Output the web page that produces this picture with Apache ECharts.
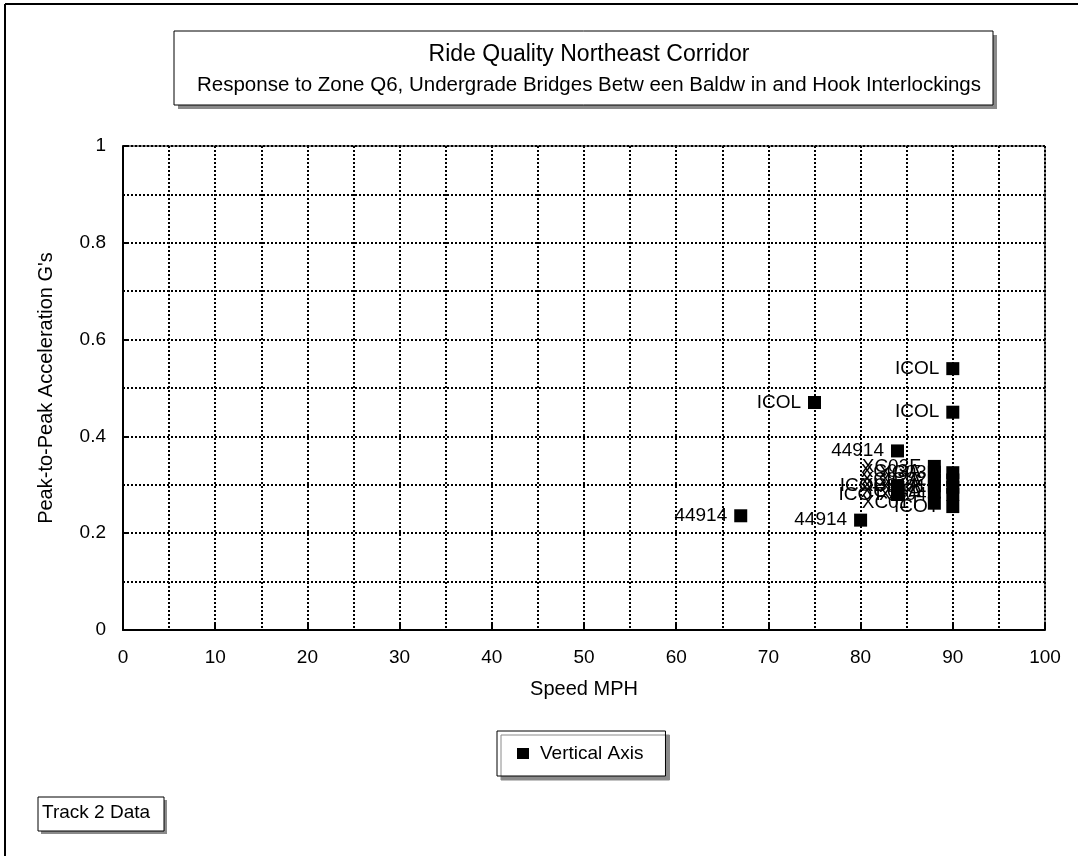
<!DOCTYPE html>
<html>
<head>
<meta charset="utf-8">
<script src="https://cdn.jsdelivr.net/npm/echarts@6/dist/echarts.min.js"></script>
<style>
  html, body { margin: 0; padding: 0; background: #fff; }
  #chart { width: 1078px; height: 856px; }
</style>
</head>
<body>
<div id="chart"></div>
<script>
// speed (MPH), peak-to-peak acceleration (G) and the tag printed next to each point
const speeds = [90, 75, 90, 84, 67, 80, 88, 88, 88, 88, 88, 84, 84, 90, 90, 90, 90, 88, 90];
const accels = [0.54, 0.47, 0.45, 0.37, 0.236, 0.227, 0.338, 0.326, 0.31, 0.298, 0.285, 0.298, 0.28, 0.325, 0.31, 0.295, 0.28, 0.262, 0.255];
const tags = ['ICOL', 'ICOL', 'ICOL', '44914', '44914', '44914', 'XC03F', 'XC03A', 'XC02A', 'XC01A', 'XC04A',
  'ICOL', 'ICOT', 'XC03E', 'XC02B', 'XC01B', 'XC04B', 'XC01T', 'ICOT'];

const font = 'Liberation Sans, Arial, sans-serif';
const points = speeds.map((s, i) => [s, accels[i], tags[i]]);

const dotted = { color: '#000', width: 2, type: [2, 2] };

const chart = echarts.init(document.getElementById('chart'));
chart.setOption({
  animation: false,
  backgroundColor: '#fff',
  textStyle: { fontFamily: font },
  title: {
    text: 'Ride Quality Northeast Corridor',
    subtext: 'Response to Zone Q6, Undergrade Bridges Betw een Baldw in and Hook Interlockings',
    left: 584,
    top: 38,
    textAlign: 'center',
    itemGap: 9,
    textStyle: { fontFamily: font, fontSize: 23, fontWeight: 'normal', color: '#000' },
    subtextStyle: { fontFamily: font, fontSize: 20.5, color: '#000' }
  },
  legend: {
    left: 497,
    top: 731,
    padding: [13, 22, 13, 20],
    backgroundColor: '#fff',
    borderColor: '#000',
    borderWidth: 1,
    shadowColor: '#8a8a8a',
    shadowOffsetX: 4,
    shadowOffsetY: 4,
    shadowBlur: 0,
    itemWidth: 12,
    itemHeight: 11,
    textStyle: { fontFamily: font, fontSize: 19, color: '#000', padding: [0, 0, 0, 6] },
    data: [{ name: 'Vertical Axis', icon: 'rect' }]
  },
  grid: {
    left: 123,
    right: 33,
    top: 146,
    bottom: 226,
    show: true,
    borderColor: '#000',
    borderWidth: 1
  },
  xAxis: {
    type: 'value',
    min: 0,
    max: 100,
    interval: 10,
    name: 'Speed MPH',
    nameLocation: 'middle',
    nameGap: 49,
    nameTextStyle: { fontFamily: font, fontSize: 20, color: '#000' },
    axisLine: { lineStyle: { color: '#000', width: 2 } },
    axisTick: { inside: true, length: 6, lineStyle: { color: '#000', width: 2 } },
    axisLabel: { margin: 18, fontFamily: font, fontSize: 19, color: '#000' },
    splitLine: { show: true, lineStyle: dotted },
    minorTick: { show: false, splitNumber: 2 },
    minorSplitLine: { show: true, lineStyle: dotted }
  },
  yAxis: {
    type: 'value',
    min: 0,
    max: 1,
    interval: 0.2,
    name: "Peak-to-Peak Acceleration G's",
    nameLocation: 'middle',
    nameGap: 67,
    nameTextStyle: { fontFamily: font, fontSize: 20, color: '#000' },
    axisLine: { show: true, lineStyle: { color: '#000', width: 2 } },
    axisTick: { show: true, inside: true, length: 6, lineStyle: { color: '#000', width: 2 } },
    axisLabel: { margin: 17, fontFamily: font, fontSize: 19, color: '#000' },
    splitLine: { show: true, lineStyle: dotted },
    minorTick: { show: false, splitNumber: 2 },
    minorSplitLine: { show: true, lineStyle: dotted }
  },
  series: [{
    name: 'Vertical Axis',
    type: 'scatter',
    symbol: 'rect',
    symbolSize: 13,
    itemStyle: { color: '#000', opacity: 1 },
    label: {
      show: true,
      position: 'left',
      distance: 7,
      fontFamily: font,
      fontSize: 19,
      color: '#000',
      formatter: p => p.value[2]
    },
    data: points
  }],
  graphic: [
    // outer frame of the scanned page
    { type: 'line', shape: { x1: 5, y1: 4, x2: 1078, y2: 4 }, style: { stroke: '#000', lineWidth: 2 } },
    { type: 'line', shape: { x1: 5, y1: 4, x2: 5, y2: 856 }, style: { stroke: '#000', lineWidth: 2 } },
    // title box with shadow
    { type: 'rect', z: -2, shape: { x: 178, y: 35, width: 819, height: 74 }, style: { fill: '#8a8a8a' } },
    { type: 'rect', z: -1, shape: { x: 174, y: 31, width: 819, height: 74 }, style: { fill: '#fff', stroke: '#000', lineWidth: 1 } },
    // Track 2 Data box
    { type: 'rect', z: -2, shape: { x: 41, y: 800, width: 126, height: 34 }, style: { fill: '#8a8a8a' } },
    { type: 'rect', z: -1, shape: { x: 38, y: 797, width: 126, height: 34 }, style: { fill: '#fff', stroke: '#000', lineWidth: 1 } },
    { type: 'text', left: 42, top: 803, style: { text: 'Track 2 Data', font: '19px ' + font, fill: '#000' } }
  ]
});
</script>
</body>
</html>
